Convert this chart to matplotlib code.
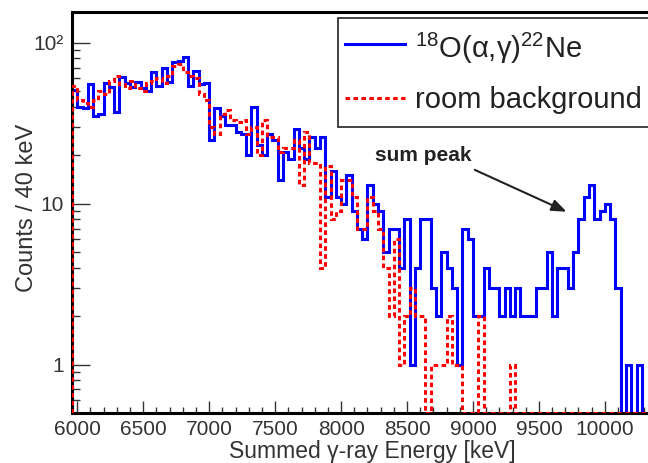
import numpy as np
import matplotlib
matplotlib.use('Agg')
import matplotlib.pyplot as plt
from matplotlib.lines import Line2D
from matplotlib.patches import Rectangle
from matplotlib.ticker import FixedLocator, NullFormatter

plt.rcParams['font.family'] = ['Liberation Sans', 'DejaVu Sans']
plt.rcParams['mathtext.fontset'] = 'custom'
plt.rcParams['mathtext.rm'] = 'Liberation Sans'

# ---------------- DATA ----------------
# 40 keV bins starting at 5960 keV
bin_start = 5960
bin_width = 40

signal_counts = [
    51, 40, 39, 55, 35, 36, 56, 53, 37, 61,
    56, 53, 57, 52, 50, 66, 54, 70, 57, 76,
    77, 82, 54, 67, 55, 56, 25, 39, 35, 31,
    31, 28, 27, 20, 40, 23, 20, 27, 25, 14,
    21, 19, 29, 22, 19, 26, 22, 26, 11, 16,
    11, 10, 15, 9, 7, 6, 13, 10, 9, 5,
    7, 7, 4, 8, 1, 4, 8, 8, 3, 2,
    5, 4, 3, 1, 7, 6, 2, 2, 4, 3,
    3, 2, 3, 2, 3, 2, 2, 2, 3, 3,
    5, 2, 4, 4, 3, 5, 8, 11, 13, 8,
    9, 10, 8, 3, 0, 1, 0, 1, 0, 0, 0,
]

background_counts = [
    54, 44, 42, 40, 44, 50, 48, 58, 62, 55,
    52, 58, 52, 50, 56, 58, 60, 56, 62, 72,
    74, 66, 62, 60, 48, 44, 30, 27, 36, 38,
    33, 32, 33, 27, 30, 20, 33, 26, 26, 21,
    22, 22, 25, 13, 28, 18, 18, 4, 17, 8,
    9, 14, 14, 11, 7, 7, 11, 9, 7, 4,
    2, 6, 1, 2, 3, 2, 2, 0, 1, 1,
    1, 2, 1, 1, 0, 0, 0, 2, 0, 0,
    0, 0, 0, 1, 0, 0, 0, 0, 0, 0,
    0, 0, 0, 0, 0, 0, 0, 0, 0, 0,
    0, 0, 0, 0, 0, 0, 0, 0, 0, 0, 0,
]

x_ticks = [6000, 6500, 7000, 7500, 8000, 8500, 9000, 9500, 10000]
y_ticks = [1, 10, 100]
y_tick_labels = ['1', '10', '10²']

signal_label = r'$^{18}$O(α,γ)$^{22}$Ne'
background_label = 'room background'

# ---------------- FIGURE ----------------
W, H = 648, 463
fig = plt.figure(figsize=(W / 100, H / 100), dpi=100)

x_lo, x_hi = 5960, 10400
y_lo, y_hi = 0.5, 155
ax_w = (x_hi - x_lo) * 0.1319
ax = fig.add_axes([72 / W, 1 - 413 / H, ax_w / W, 401 / H])

edges = bin_start + bin_width * np.arange(len(signal_counts) + 1)
sig = np.maximum(np.array(signal_counts, float), y_lo)
bkg = np.maximum(np.array(background_counts, float), y_lo)

ax.stairs(bkg, edges, baseline=y_lo, color='red', lw=2.2,
          linestyle=(0, (1.5, 1.1)), zorder=3)
ax.stairs(sig, edges, baseline=y_lo, color='blue', lw=2.2, zorder=2)

ax.set_yscale('log')
ax.set_xlim(x_lo, x_hi)
ax.set_ylim(y_lo, y_hi)

ax.set_xticks(x_ticks)
ax.set_xticklabels([str(t) for t in x_ticks])
ax.xaxis.set_minor_locator(FixedLocator(np.arange(6000, 10400, 100)))
ax.set_yticks(y_ticks)
ax.set_yticklabels(y_tick_labels)
minor_y = [m * d for d in (0.1, 1, 10, 100) for m in range(2, 10)]
ax.yaxis.set_minor_locator(FixedLocator(minor_y))
ax.yaxis.set_minor_formatter(NullFormatter())

ax.tick_params(which='both', direction='in', colors='#333333', labelcolor='#333333',
               labelsize=15)
ax.tick_params(axis='y', which='major', length=13, width=1.0, pad=6)
ax.tick_params(axis='y', which='minor', length=6, width=1.0)
ax.tick_params(axis='x', which='major', length=9, width=1.0, pad=5)
ax.tick_params(axis='x', which='minor', length=4.5, width=1.0)

for side in ['left', 'bottom', 'top']:
    ax.spines[side].set_linewidth(2.2)
    ax.spines[side].set_color('black')

ax.set_xlabel('Summed γ-ray Energy [keV]', fontsize=16.5, color='#333333')
ax.xaxis.set_label_coords((372 - 72) / ax_w, (413 - 440) / 401)
ax.set_ylabel('Counts / 40 keV', fontsize=17, color='#333333')
ax.yaxis.set_label_coords((38 - 72) / ax_w, (413 - 208) / 401)

# ---------------- ANNOTATION ----------------
ax.text(8620, 19.8, 'sum peak', fontsize=15, fontweight='bold', ha='center',
        va='center', color='#222222')
ax.annotate('', xy=(9710, 8.9), xytext=(9014, 16.2),
            arrowprops=dict(arrowstyle='-|>,head_length=0.9,head_width=0.35',
                            color='#222222', lw=1.5, shrinkA=0, shrinkB=0))

# ---------------- LEGEND ----------------
def fx(px):
    return px / W


def fy(py):
    return 1 - py / H


fig.patches.append(Rectangle((fx(338), fy(127)), fx(400), fy(18) - fy(127),
                             transform=fig.transFigure, facecolor='white',
                             edgecolor='#333333', lw=1.3, zorder=5))
fig.lines.append(Line2D([fx(345), fx(405)], [fy(44), fy(44)], transform=fig.transFigure,
                        color='blue', lw=2.2, zorder=6))
fig.lines.append(Line2D([fx(345), fx(405)], [fy(98), fy(98)], transform=fig.transFigure,
                        color='red', lw=2.2, linestyle=(0, (1.5, 1.1)), zorder=6))
fig.text(fx(415), fy(48), signal_label, fontsize=21, va='center', ha='left',
         color='#222222', zorder=7)
fig.text(fx(415), fy(100), background_label, fontsize=21, va='center', ha='left',
         color='#222222', zorder=7)

fig.savefig('out.png', dpi=100)
